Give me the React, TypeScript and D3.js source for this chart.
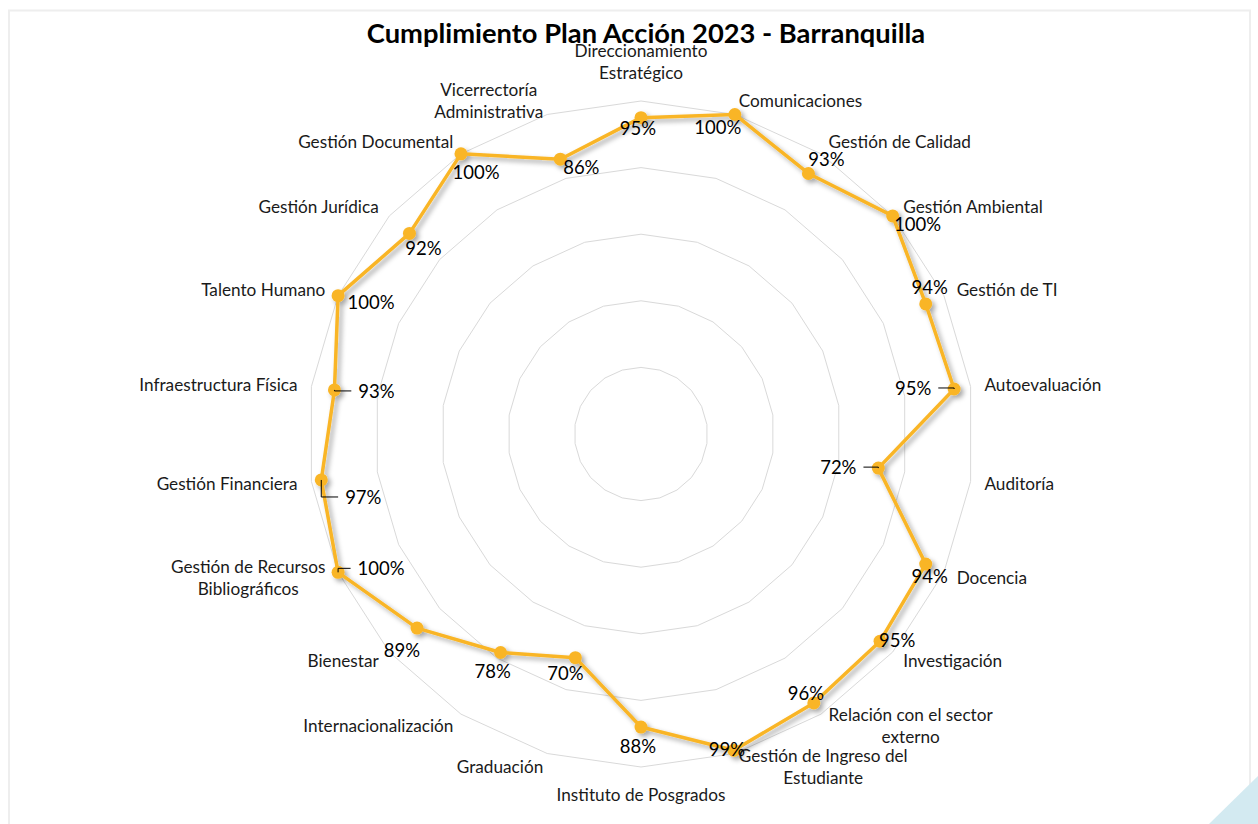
import React, { useEffect, useRef } from "react";
import * as d3 from "d3";

const chartTitle = "Cumplimiento Plan Acción 2023 - Barranquilla";

const categories: string[] = [
  "Direccionamiento\nEstratégico",
  "Comunicaciones",
  "Gestión de Calidad",
  "Gestión Ambiental",
  "Gestión de TI",
  "Autoevaluación",
  "Auditoría",
  "Docencia",
  "Investigación",
  "Relación con el sector\nexterno",
  "Gestión de Ingreso del\nEstudiante",
  "Instituto de Posgrados",
  "Graduación",
  "Internacionalización",
  "Bienestar",
  "Gestión de Recursos\nBibliográficos",
  "Gestión Financiera",
  "Infraestructura Física",
  "Talento Humano",
  "Gestión Jurídica",
  "Gestión Documental",
  "Vicerrectoría\nAdministrativa",
];

const values: number[] = [
  0.95, 1.0, 0.93, 1.0, 0.94, 0.95, 0.72, 0.94, 0.95, 0.96, 0.99,
  0.88, 0.7, 0.78, 0.89, 1.0, 0.97, 0.93, 1.0, 0.92, 1.0, 0.86,
];

const ringLevels: number[] = [0.2, 0.4, 0.6, 0.8, 1.0];

// data-label placement (offset of label centre from its point), kept apart from data
const valueLabelOffsets: [number, number][] = [
  [-3, 11], [-17, 13], [18, -14], [25, 8], [4, -17], [-41, -1], [-40, -1],
  [4, 12], [17, -1], [-8, -10], [-7, -1], [-3, 19], [-10, 16], [-8, 19],
  [-15, 22], [43, -4], [42, 17], [42, 1], [33, 7], [14, 15], [15, 18], [21, 8],
];
const leaderSides: Record<number, "left" | "right"> = {
  5: "left",
  6: "left",
  15: "right",
  16: "right",
  17: "right",
};

const W = 1258;
const H = 824;
const CX = 641;
const CY = 434;
const R = 333;
const LABEL_R = 347;
const FONT = "Lato, 'Open Sans', sans-serif";
const SERIES_COLOR = "#F9B526";

export default function App() {
  const ref = useRef<SVGSVGElement>(null);

  useEffect(() => {
    const svg = d3.select(ref.current);
    svg.selectAll("*").remove();
    const n = categories.length;
    const angle = d3.scaleLinear().domain([0, n]).range([0, 2 * Math.PI]);
    const radius = d3.scaleLinear().domain([0, 1]).range([0, R]);
    const pt = (i: number, v: number): [number, number] => [
      CX + radius(v) * Math.sin(angle(i)),
      CY - radius(v) * Math.cos(angle(i)),
    ];

    const defs = svg.append("defs");
    const f = defs
      .append("filter")
      .attr("id", "shadow")
      .attr("x", "-10%")
      .attr("y", "-10%")
      .attr("width", "120%")
      .attr("height", "120%");
    f.append("feDropShadow")
      .attr("dx", 3)
      .attr("dy", 3)
      .attr("stdDeviation", 2.5)
      .attr("flood-color", "#000")
      .attr("flood-opacity", 0.35);

    svg.append("rect").attr("width", W).attr("height", H).attr("fill", "#fff");
    // chart area border
    svg
      .append("rect")
      .attr("x", 9)
      .attr("y", 10.5)
      .attr("width", 1241)
      .attr("height", 830)
      .attr("fill", "none")
      .attr("stroke", "#eeeeee")
      .attr("stroke-width", 2);
    // decorative corner
    svg
      .append("polygon")
      .attr("points", `${W},776 ${W},${H} 1209,${H}`)
      .attr("fill", "#d3eaf1");

    // rings
    const gGrid = svg.append("g");
    ringLevels.forEach((lv) => {
      const arr = d3.range(n).map(() => lv);
      const ln = d3
        .line<number>()
        .x((d, i) => pt(i, d)[0])
        .y((d, i) => pt(i, d)[1])
        .curve(d3.curveLinearClosed);
      gGrid
        .append("path")
        .attr("d", ln(arr) as string)
        .attr("fill", "none")
        .attr("stroke", "#d9d9d9")
        .attr("stroke-width", 1);
    });

    // title
    svg
      .append("text")
      .attr("x", 646)
      .attr("y", 43)
      .attr("text-anchor", "middle")
      .attr("font-family", FONT)
      .attr("font-weight", 700)
      .attr("font-size", 27.3)
      .attr("fill", "#000")
      .text(chartTitle);

    // category labels
    const lineH = 22;
    const gCat = svg
      .append("g")
      .attr("font-family", FONT)
      .attr("font-size", 17.2)
      .attr("fill", "#1a1a1a");
    categories.forEach((cat, i) => {
      const lines = cat.split("\n");
      const a = angle(i);
      const s = Math.sin(a);
      const c = Math.cos(a);
      const x0 = CX + LABEL_R * s;
      const y0 = CY - LABEL_R * c;
      const texts = lines.map((l) =>
        gCat.append("text").attr("text-anchor", "middle").text(l)
      );
      const widths = texts.map((t) => (t.node() as SVGTextElement).getComputedTextLength());
      const bw = Math.max(...widths);
      const bh = lines.length * lineH;
      let bx: number;
      let top: number;
      if (Math.abs(s) < 0.05) {
        bx = x0;
        top = c > 0 ? y0 - bh - 3 : y0 + 3;
      } else {
        bx = s > 0 ? x0 + bw / 2 : x0 - bw / 2;
        top = y0 - bh / 2;
      }
      texts.forEach((t, k) => {
        t.attr("x", bx).attr("y", top + lineH * (k + 0.5)).attr("dy", "0.36em");
      });
    });

    // series
    const gSeries = svg.append("g").attr("filter", "url(#shadow)");
    const radial = d3
      .lineRadial<number>()
      .angle((_, i) => angle(i))
      .radius((d) => radius(d))
      .curve(d3.curveLinearClosed);
    gSeries
      .append("path")
      .attr("transform", `translate(${CX},${CY})`)
      .attr("d", radial(values) as string)
      .attr("fill", "none")
      .attr("stroke", SERIES_COLOR)
      .attr("stroke-width", 3.5)
      .attr("stroke-linejoin", "round");
    gSeries
      .selectAll("circle")
      .data(values)
      .join("circle")
      .attr("cx", (d, i) => pt(i, d)[0])
      .attr("cy", (d, i) => pt(i, d)[1])
      .attr("r", 6.5)
      .attr("fill", SERIES_COLOR);

    // data labels
    const gLab = svg
      .append("g")
      .attr("font-family", FONT)
      .attr("font-size", 18.5)
      .attr("fill", "#000");
    const gLead = svg.append("g");
    const fmt = d3.format(".0%");
    values.forEach((v, i) => {
      const [px, py] = pt(i, v);
      const [dx, dy] = valueLabelOffsets[i];
      const lx = px + dx;
      const ly = py + dy;
      const t = gLab
        .append("text")
        .attr("x", lx)
        .attr("y", ly)
        .attr("dy", "0.36em")
        .attr("text-anchor", "middle")
        .text(fmt(v));
      const w = (t.node() as SVGTextElement).getComputedTextLength();
      const side = leaderSides[i];
      if (side) {
        const sx = side === "left" ? lx + w / 2 + 7 : lx - w / 2 - 7;
        const pts: [number, number][] = [
          [sx, ly],
          [px, ly],
          [px, py],
        ];
        gLead
          .append("path")
          .attr("d", d3.line()(pts) as string)
          .attr("fill", "none")
          .attr("stroke", "#000")
          .attr("stroke-width", 1);
      }
    });
  }, []);

  return (
    <div style={{ position: "absolute", left: 0, top: 0 }}>
      <svg ref={ref} width={W} height={H} style={{ display: "block" }} />
    </div>
  );
}
